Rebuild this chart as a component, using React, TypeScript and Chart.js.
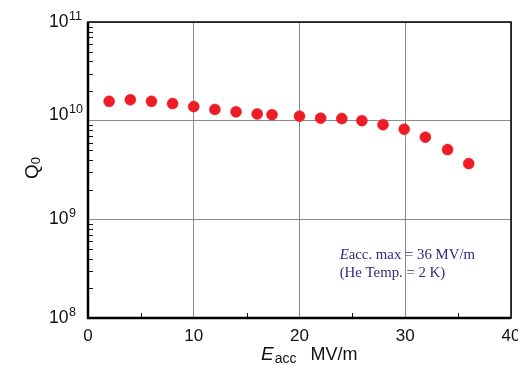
import React, { useEffect, useRef } from 'react';
import { Chart, registerables } from 'chart.js';
Chart.register(...registerables);

const eaccValues = [2, 4, 6, 8, 10, 12, 14, 16, 17.4, 20, 22, 24, 25.9, 27.9, 29.9, 31.9, 34, 36];
const q0Values = [1.57e10, 1.63e10, 1.57e10, 1.49e10, 1.39e10, 1.3e10, 1.23e10, 1.17e10, 1.15e10, 1.11e10, 1.06e10, 1.05e10, 1.0e10, 9.1e9, 8.2e9, 6.8e9, 5.1e9, 3.67e9];
const xTickValues = [0, 10, 20, 30, 40];
const xMinorTickValues = [5, 15, 25, 35];
const yTickExponents = [8, 9, 10, 11];
const yTickBase = '10';
const yTitleMain = 'Q';
const yTitleSub = '0';
const xTitleMain = 'E';
const xTitleSub = 'acc';
const xTitleUnit = 'MV/m';
const noteLine1Italic = 'E';
const noteLine1Rest = 'acc. max = 36 MV/m';
const noteLine2 = '(He Temp. = 2 K)';

const SANS = '"Liberation Sans", Arial, Helvetica, sans-serif';
const SERIF = '"Liberation Serif", "Times New Roman", serif';

const decorPlugin = {
  id: 'decor',
  afterDraw(chart: any) {
    const { ctx, chartArea: a, scales } = chart;
    const xs = scales.x;
    const ys = scales.y;
    ctx.save();
    // minor ticks on y (inward)
    ctx.strokeStyle = '#111';
    ctx.lineWidth = 1;
    for (let e = yTickExponents[0]; e < yTickExponents[yTickExponents.length - 1]; e++) {
      for (let m = 2; m <= 9; m++) {
        const y = Math.round(ys.getPixelForValue(m * Math.pow(10, e))) + 0.5;
        ctx.beginPath();
        ctx.moveTo(a.left, y);
        ctx.lineTo(a.left + 5, y);
        ctx.stroke();
      }
    }
    // minor ticks on x (inward)
    for (const v of xMinorTickValues) {
      const x = Math.round(xs.getPixelForValue(v)) + 0.5;
      ctx.beginPath();
      ctx.moveTo(x, a.bottom);
      ctx.lineTo(x, a.bottom - 5);
      ctx.stroke();
    }
    // frame
    ctx.strokeStyle = '#000';
    ctx.lineWidth = 1.5;
    ctx.strokeRect(a.left, a.top, a.right - a.left, a.bottom - a.top);
    ctx.lineWidth = 2.5;
    ctx.beginPath();
    ctx.moveTo(a.left, a.top);
    ctx.lineTo(a.left, a.bottom);
    ctx.lineTo(a.right, a.bottom);
    ctx.stroke();

    ctx.fillStyle = '#111';
    ctx.textBaseline = 'alphabetic';
    ctx.textAlign = 'left';

    // y tick labels (10 with superscript exponent)
    for (const e of yTickExponents) {
      const ty = ys.getPixelForValue(Math.pow(10, e));
      const base = e === 10 ? ty - 1 : ty + 5;
      ctx.font = '17.5px ' + SANS;
      ctx.fillText(yTickBase, 49, base);
      const wb = ctx.measureText(yTickBase).width;
      ctx.font = '12.5px ' + SANS;
      ctx.fillText(String(e), 49 + wb + 0.5, base - 7);
    }

    // x title
    let x = 261;
    const by = 360;
    ctx.font = 'italic 19px ' + SANS;
    ctx.fillText(xTitleMain, x, by);
    x += ctx.measureText(xTitleMain).width + 1;
    ctx.font = '14px ' + SANS;
    ctx.fillText(xTitleSub, x, by + 3);
    x += ctx.measureText(xTitleSub).width + 14;
    ctx.font = '18px ' + SANS;
    ctx.fillText(xTitleUnit, x, by);

    // y title
    ctx.save();
    ctx.translate(38, (a.top + a.bottom) / 2 - 2);
    ctx.rotate(-Math.PI / 2);
    ctx.font = '19px ' + SANS;
    const wq = ctx.measureText(yTitleMain).width;
    ctx.font = '13px ' + SANS;
    const w0 = ctx.measureText(yTitleSub).width;
    const start = -(wq + w0) / 2;
    ctx.font = '19px ' + SANS;
    ctx.fillText(yTitleMain, start, 0);
    ctx.font = '13px ' + SANS;
    ctx.fillText(yTitleSub, start + wq, 2);
    ctx.restore();

    // note
    ctx.fillStyle = '#2d2d82';
    const nx = xs.getPixelForValue(23.8);
    const ny1 = ys.getPixelForValue(4.0e8);
    const ny2 = ys.getPixelForValue(2.6e8);
    ctx.font = 'italic 14.8px ' + SERIF;
    ctx.fillText(noteLine1Italic, nx, ny1);
    const wi = ctx.measureText(noteLine1Italic).width;
    ctx.font = '14.8px ' + SERIF;
    ctx.fillText(noteLine1Rest, nx + wi, ny1);
    ctx.fillText(noteLine2, nx, ny2);
    ctx.restore();
  },
};

export default function App() {
  const ref = useRef<HTMLCanvasElement>(null);
  useEffect(() => {
    document.body.style.margin = '0';
    const canvas = ref.current!;
    const chart = new Chart(canvas, {
      type: 'scatter',
      data: {
        datasets: [
          {
            data: eaccValues.map((v, i) => ({ x: v, y: q0Values[i] })),
            backgroundColor: '#ee1c25',
            borderColor: '#e3141e',
            borderWidth: 0.5,
            pointRadius: 5.5,
            showLine: false,
          },
        ],
      },
      options: {
        animation: false,
        responsive: false,
        layout: { padding: { top: 22, right: 7, left: 49, bottom: 0 } },
        plugins: { legend: { display: false }, tooltip: { enabled: false } },
        scales: {
          x: {
            type: 'linear',
            min: 0,
            max: 40,
            afterBuildTicks: (s: any) => {
              s.ticks = xTickValues.map((v) => ({ value: v }));
            },
            afterFit: (s: any) => {
              s.height = 51;
              s.paddingLeft = 0;
              s.paddingRight = 0;
            },
            grid: { color: '#8a8a8a', lineWidth: 1, drawTicks: false },
            border: { display: false },
            ticks: {
              padding: 8,
              color: '#111',
              font: { family: SANS, size: 17 },
              maxRotation: 0,
              callback: (v: any) => String(v),
            },
          },
          y: {
            type: 'logarithmic',
            min: 1e8,
            max: 1e11,
            afterBuildTicks: (s: any) => {
              s.ticks = yTickExponents.map((e) => ({ value: Math.pow(10, e) }));
            },
            afterFit: (s: any) => {
              s.width = 39;
              s.paddingTop = 0;
              s.paddingBottom = 0;
            },
            grid: { color: '#8a8a8a', lineWidth: 1, drawTicks: false },
            border: { display: false },
            ticks: { display: false },
          },
        },
      },
      plugins: [decorPlugin],
    });
    return () => chart.destroy();
  }, []);
  return (
    <div style={{ position: 'fixed', left: 0, top: 0, width: 518, height: 369, background: '#fff' }}>
      <canvas ref={ref} width={518} height={369} />
    </div>
  );
}
